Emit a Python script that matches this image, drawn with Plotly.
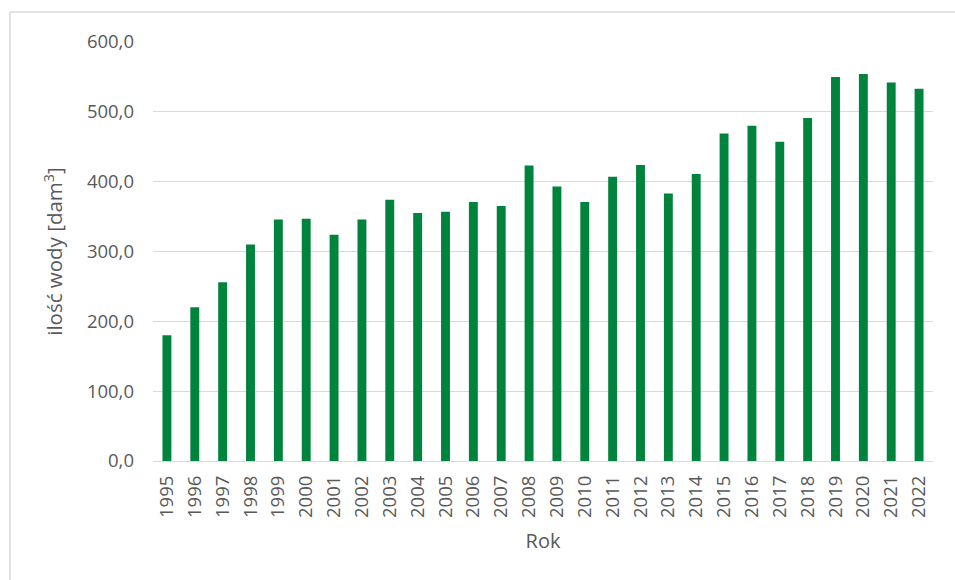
import plotly.graph_objects as go

# data
years = [str(y) for y in range(1995, 2023)]
water = [180, 220, 256, 310, 346, 347, 324, 346, 374, 355, 357, 371, 365, 423,
         393, 371, 407, 424, 383, 411, 469, 480, 457, 491, 550, 554, 542, 533]
y_ticks = [0, 100, 200, 300, 400, 500, 600]
y_tick_text = ['%.1f' % v for v in y_ticks]
y_tick_text = [t.replace('.', ',') for t in y_tick_text]

grey_text = '#595959'
grid = '#D9D9D9'
font_name = 'Open Sans'

fig = go.Figure()
fig.add_trace(go.Bar(
    x=years,
    y=water,
    marker=dict(color='#00843D', line=dict(width=0)),
))

# plot area: x 153..933, y 42..461 in pixels
L, R, T, B = 153, 22, 42, 119
W, H = 955, 580
pw, ph = W - L - R, H - T - B

fig.update_layout(
    width=W, height=H,
    margin=dict(l=L, r=R, t=T, b=B),
    paper_bgcolor='white',
    plot_bgcolor='white',
    bargap=0.68,
    showlegend=False,
    font=dict(family=font_name, color=grey_text, size=18),
    xaxis=dict(
        type='category',
        tickangle=-90,
        showgrid=False,
        showline=False,
        ticks='',
        ticklabelstandoff=10,
        tickfont=dict(size=18.5, color=grey_text),
        title=dict(text='Rok', font=dict(size=20, color=grey_text), standoff=16),
    ),
    yaxis=dict(
        range=[0, 600],
        tickvals=y_ticks,
        ticktext=y_tick_text,
        showgrid=True,
        gridcolor=grid,
        gridwidth=1,
        zeroline=True,
        zerolinecolor=grid,
        zerolinewidth=1,
        showline=False,
        ticks='',
        ticklabelstandoff=18,
        tickfont=dict(size=18.5, color=grey_text),
        title=dict(text='ilość wody [dam<sup>3</sup>]', font=dict(size=20.5, color=grey_text), standoff=18),
    ),
    shapes=[dict(
        type='rect', xref='paper', yref='paper',
        x0=(10 - L) / pw, x1=(W + 10 - L) / pw,
        y0=-(H + 10 - T - ph) / ph, y1=(ph + T - 12) / ph,
        line=dict(color=grid, width=1.5),
        fillcolor='rgba(0,0,0,0)',
        layer='below',
    )],
)

fig.write_html('out.html', config={'displayModeBar': False},
               post_script="document.body.style.margin='0';")
